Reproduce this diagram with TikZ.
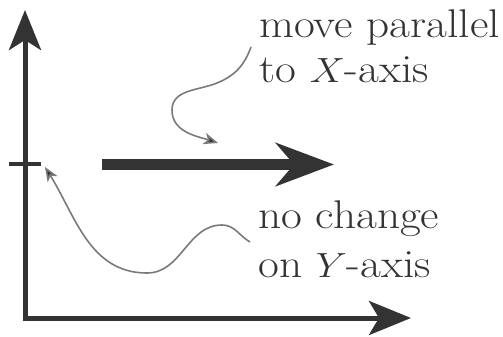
\documentclass[tikz,border=0pt]{standalone}
\usetikzlibrary{arrows.meta}
\definecolor{ink}{HTML}{333333}
\definecolor{pencil}{HTML}{7a7a7a}
\newcommand\widetext[1]{\scalebox{1.13}[1]{#1}}
\begin{document}
\begin{tikzpicture}[x=0.25mm,y=0.25mm,
  axis/.style={line width=1.25mm,draw=ink},
  pointer/.style={line width=0.4mm,draw=pencil,-{Stealth[length=3.6mm,width=2.9mm,inset=1mm,fill=ink]}},
  lbl/.style={anchor=base west,inner sep=0pt,text=ink,font=\fontsize{28.5}{34}\selectfont}]
\useasboundingbox (0,0) rectangle (503,336);
% axes
\coordinate (O) at (25,18);
\coordinate (Ytip) at (25,326);
\coordinate (Xtip) at (411,18);
\draw[axis,{Stealth[length=10mm,width=8mm,inset=2.5mm]}-{Stealth[length=10.5mm,width=8.5mm,inset=2.5mm]}] (Ytip) -- (O) -- (Xtip);
% tick and shift
\coordinate (tickL) at (9,172);
\coordinate (tickR) at (41,172);
\draw[line width=0.9mm,draw=ink] (tickL) -- (tickR);
\coordinate (shiftL) at (102,171.5);
\coordinate (shiftR) at (334,171.5);
\draw[line width=2.75mm,draw=ink,-{Stealth[length=14.5mm,width=10.75mm,inset=4.5mm]}] (shiftL) -- (shiftR);
% labels
\node[lbl] (mv) at (259,299) {\widetext{move parallel}};
\node[lbl] (tox) at (259,254) {\widetext{to $X$-axis}};
\node[lbl] (nc) at (258,108) {\widetext{no change}};
\node[lbl] (ony) at (258,59) {\widetext{on $Y$-axis}};
% pointers
\coordinate (p1) at (251,289);
\coordinate (p1a) at (217,253);
\coordinate (p1b) at (172,226);
\coordinate (p1tip) at (218,193);
\draw[pointer] (p1) to[out=-110,in=22] (p1a) to[out=202,in=90] (p1b) to[out=-90,in=162] (p1tip);
\coordinate (p2) at (250,94);
\coordinate (p2a) at (222,111);
\coordinate (p2b) at (147,63);
\coordinate (p2tip) at (45,169);
\draw[pointer] (p2) to[out=150,in=0] (p2a) to[out=180,in=0] (p2b) to[out=180,in=-58] (p2tip);
\end{tikzpicture}
\end{document}
